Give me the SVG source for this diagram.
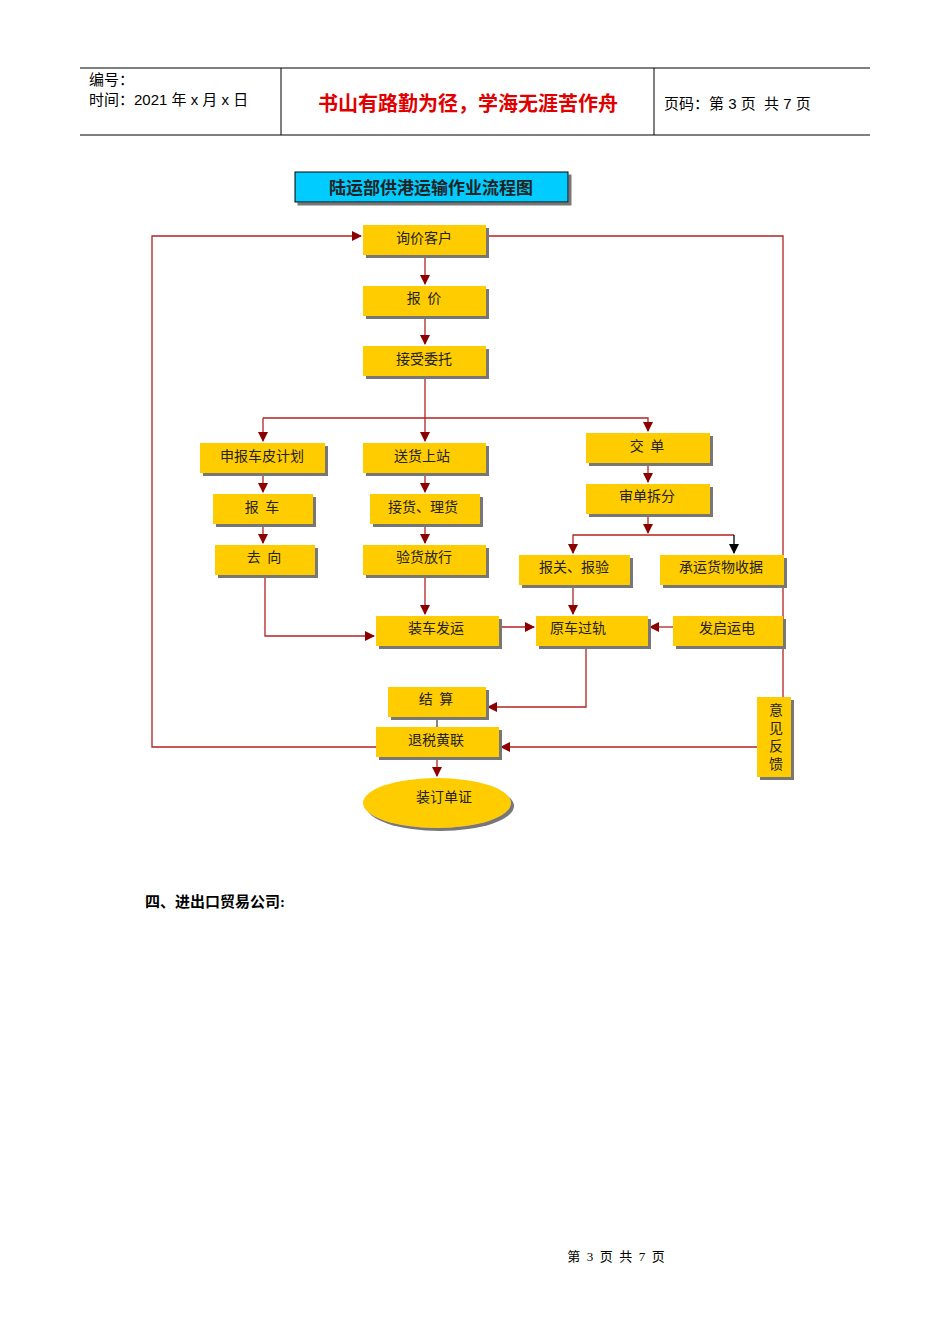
<svg xmlns="http://www.w3.org/2000/svg" width="950" height="1344" viewBox="0 0 950 1344">
<style>
.b{fill:#ffcc00;filter:url(#sh)}
.t{font-family:"Noto Sans CJK SC",sans-serif;font-size:14px;fill:#222;text-anchor:middle}
.c{fill:none;stroke:#b22222;stroke-width:1.3}
.h{font-family:"Liberation Sans","Noto Sans CJK SC",sans-serif;font-size:15px;fill:#000}
</style>
<defs>
<filter id="sh" x="-10%" y="-10%" width="130%" height="140%"><feDropShadow dx="3" dy="3" stdDeviation="0.6" flood-color="#777"/></filter>
<marker id="a" markerWidth="10" markerHeight="10" refX="9" refY="5" orient="auto" markerUnits="userSpaceOnUse"><path d="M0,0L10,5L0,10z" fill="#8b0000"/></marker>
<marker id="k" markerWidth="10" markerHeight="10" refX="9" refY="5" orient="auto" markerUnits="userSpaceOnUse"><path d="M0,0L10,5L0,10z" fill="#000"/></marker>
</defs>
<rect width="950" height="1344" fill="#fff"/>
<g id="header">
<line x1="80" y1="68" x2="870" y2="68" stroke="#000"/>
<line x1="80" y1="135" x2="870" y2="135" stroke="#000"/>
<line x1="281" y1="68" x2="281" y2="135" stroke="#000"/>
<line x1="654" y1="68" x2="654" y2="135" stroke="#000"/>
<text x="89" y="85" class="h">编号：</text>
<text x="89" y="105" class="h">时间：2021 年 x 月 x 日</text>
<text x="468" y="111" font-family="Noto Sans CJK SC,sans-serif" font-size="20" font-weight="bold" fill="#e00000" text-anchor="middle">书山有路勤为径，学海无涯苦作舟</text>
<text x="664" y="109" class="h">页码：第 3 页&#160; 共 7 页</text>
</g>
<g id="title"><rect x="295" y="172" width="273" height="30" fill="#00ccff" stroke="#000" filter="url(#sh)"/>
<text x="431" y="194" class="t" style="font-weight:bold;font-size:17px">陆运部供港运输作业流程图</text></g>
<g id="connectors">
<path class="c" d="M376,747H152V236H361" marker-end="url(#a)"/>
<path class="c" d="M486,236H783V697"/>
<path class="c" d="M757,747H501" marker-end="url(#a)"/>
<path class="c" d="M425,255V284" marker-end="url(#a)"/>
<path class="c" d="M425,316V344" marker-end="url(#a)"/>
<path class="c" d="M425,376V441" marker-end="url(#a)"/>
<path class="c" d="M263,418H648V431" marker-end="url(#a)"/>
<path class="c" d="M263,418V441" marker-end="url(#a)"/>
<path class="c" d="M263,473V492" marker-end="url(#a)"/>
<path class="c" d="M263,524V543" marker-end="url(#a)"/>
<path class="c" d="M265,575V636H374" marker-end="url(#a)"/>
<path class="c" d="M425,473V492" marker-end="url(#a)"/>
<path class="c" d="M425,524V543" marker-end="url(#a)"/>
<path class="c" d="M425,575V614" marker-end="url(#a)"/>
<path class="c" d="M648,463V482" marker-end="url(#a)"/>
<path class="c" d="M648,514V533" marker-end="url(#a)"/>
<path class="c" d="M573,553V535H734"/>
<path class="c" d="M573,545V553" marker-end="url(#a)"/>
<path d="M734,535V553" fill="none" stroke="#000" stroke-width="1.3" marker-end="url(#k)"/>
<path class="c" d="M573,585V614" marker-end="url(#a)"/>
<path class="c" d="M499,627H534" marker-end="url(#a)"/>
<path class="c" d="M673,627H650" marker-end="url(#a)"/>
<path class="c" d="M586,646V707H488" marker-end="url(#a)"/>
<path d="M437,717V727" stroke="#444" stroke-width="1.3"/>
<path class="c" d="M437,757V776" marker-end="url(#a)"/>
</g>
<g id="n1"><rect class="b" x="363" y="225" width="123" height="30"/><text class="t" x="424" y="243">询价客户</text></g>
<g id="n2"><rect class="b" x="363" y="286" width="123" height="30"/><text class="t" x="424" y="303">报&#160;&#160;价</text></g>
<g id="n3"><rect class="b" x="363" y="346" width="123" height="30"/><text class="t" x="424" y="364">接受委托</text></g>
<g id="n4"><rect class="b" x="200" y="443" width="125" height="30"/><text class="t" x="262" y="461">申报车皮计划</text></g>
<g id="n5"><rect class="b" x="363" y="443" width="123" height="30"/><text class="t" x="422" y="461">送货上站</text></g>
<g id="n6"><rect class="b" x="586" y="433" width="124" height="30"/><text class="t" x="647" y="451">交&#160;&#160;单</text></g>
<g id="n7"><rect class="b" x="213" y="494" width="100" height="30"/><text class="t" x="262" y="512">报&#160;&#160;车</text></g>
<g id="n8"><rect class="b" x="370" y="494" width="110" height="30"/><text class="t" x="423" y="512">接货、理货</text></g>
<g id="n9"><rect class="b" x="586" y="484" width="124" height="30"/><text class="t" x="647" y="501">审单拆分</text></g>
<g id="n10"><rect class="b" x="215" y="545" width="100" height="30"/><text class="t" x="264" y="562">去&#160;&#160;向</text></g>
<g id="n11"><rect class="b" x="363" y="545" width="123" height="30"/><text class="t" x="424" y="562">验货放行</text></g>
<g id="n12"><rect class="b" x="519" y="555" width="111" height="30"/><text class="t" x="574" y="572">报关、报验</text></g>
<g id="n13"><rect class="b" x="660" y="555" width="124" height="30"/><text class="t" x="721" y="572">承运货物收据</text></g>
<g id="n14"><rect class="b" x="376" y="616" width="123" height="30"/><text class="t" x="436" y="633">装车发运</text></g>
<g id="n15"><rect class="b" x="536" y="616" width="112" height="30"/><text class="t" x="578" y="633">原车过轨</text></g>
<g id="n16"><rect class="b" x="673" y="616" width="110" height="30"/><text class="t" x="727" y="633">发启运电</text></g>
<g id="n17"><rect class="b" x="388" y="687" width="98" height="30"/><text class="t" x="436" y="704">结&#160;&#160;算</text></g>
<g id="n18"><rect class="b" x="376" y="727" width="123" height="30"/><text class="t" x="436" y="745">退税黄联</text></g>
<g id="n19"><rect class="b" x="757" y="697" width="34" height="80"/><text class="t" x="776" y="715">意</text><text class="t" x="776" y="733">见</text><text class="t" x="776" y="751">反</text><text class="t" x="776" y="769">馈</text></g>
<g id="n20"><ellipse class="b" cx="437" cy="803" rx="74" ry="25"/><text class="t" x="444" y="802">装订单证</text></g>
<text x="145" y="907" font-family="Liberation Serif,Noto Sans CJK SC,serif" font-size="15" font-weight="bold">四、进出口贸易公司:</text>
<text x="616" y="1261" font-family="Liberation Serif,Noto Sans CJK SC,serif" font-size="13" text-anchor="middle">第 &#160;3 &#160;页 &#160;共 &#160;7 &#160;页</text>
</svg>
